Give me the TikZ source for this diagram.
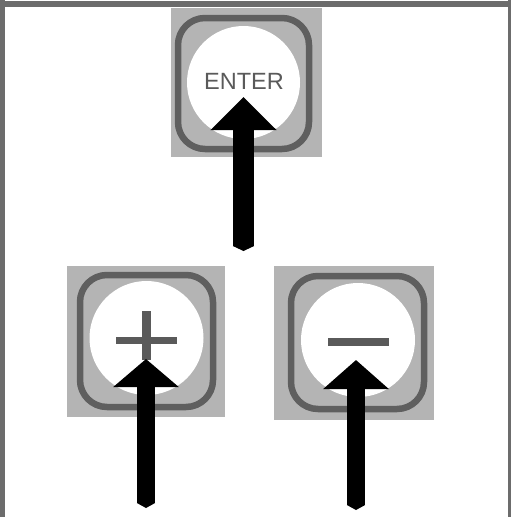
\documentclass[tikz,border=0pt]{standalone}
\usepackage{fontspec}
\setmainfont{Liberation Sans}
\usetikzlibrary{arrows.meta}
\definecolor{keygrey}{HTML}{B4B4B4}
\definecolor{framegrey}{HTML}{5F5F5F}
\definecolor{bordergrey}{HTML}{6C6C6C}
\definecolor{glyphgrey}{HTML}{5A5A5A}
\tikzset{
  keybg/.style={fill=keygrey,draw=none,inner sep=0pt,minimum width=#1},
  keyframe/.style={draw=framegrey,line width=6.5pt,rounded corners=27pt,inner sep=0pt,minimum width=#1},
  keyface/.style={circle,fill=white,draw=none,inner sep=0pt,minimum size=#1},
  glyphbar/.style={fill=glyphgrey,draw=none,inner sep=0pt},
  pusharrow/.style 2 args={draw=black,line width=#1,
    {Triangle[width=#1,length=5pt]}-{Triangle[width=64pt,length=#2]}},
}
\begin{document}
\begin{tikzpicture}[x=1pt,y=-1pt]
\useasboundingbox (0,0) rectangle (511,517);
\fill[white] (0,0) rectangle (511,517);
% window border
\fill[bordergrey] (0,1) rectangle (511,7);
\fill[bordergrey] (0,0) rectangle (5,517);
\fill[bordergrey] (508,0) rectangle (511,517);
% ENTER key
\node[keybg=151pt,minimum height=149pt] (enterbg) at (246.5,82.5) {};
\node[keyframe=131pt,minimum height=131pt] (enterframe) at (243.5,83.5) {};
\node[keyface=113pt] (enterface) at (243.5,82.5) {};
\node[text=glyphgrey,font=\fontsize{23.5}{24}\selectfont] (entertext) at (244,81.5) {ENTER};
% plus key
\node[keybg=158pt,minimum height=151pt] (plusbg) at (146,341.5) {};
\node[keyframe=133pt,minimum height=132pt] (plusframe) at (146.5,341) {};
\node[keyface=114pt] (plusface) at (146.5,338) {};
\node[glyphbar,minimum width=61pt,minimum height=7pt] (plush) at (146.5,340.5) {};
\node[glyphbar,minimum width=9pt,minimum height=49pt] (plusv) at (146.5,335.5) {};
% minus key
\node[keybg=160pt,minimum height=154pt] (minusbg) at (354,343) {};
\node[keyframe=133pt,minimum height=133pt] (minusframe) at (357.5,342.5) {};
\node[keyface=114pt] (minusface) at (358,340) {};
\node[glyphbar,minimum width=61pt,minimum height=8pt] (minusbar) at (358.5,342) {};
% arrow ends
\coordinate (entertail) at (243.5,251);
\coordinate (entertip) at (243.5,97);
\coordinate (plustail) at (146,508);
\coordinate (plustip) at (146,359);
\coordinate (minustail) at (356,510);
\coordinate (minustip) at (356,360);
\draw[pusharrow={21pt}{33pt}] (entertail) -- (entertip);
\draw[pusharrow={18pt}{28pt}] (plustail) -- (plustip);
\draw[pusharrow={18pt}{29pt}] (minustail) -- (minustip);
\end{tikzpicture}
\end{document}
